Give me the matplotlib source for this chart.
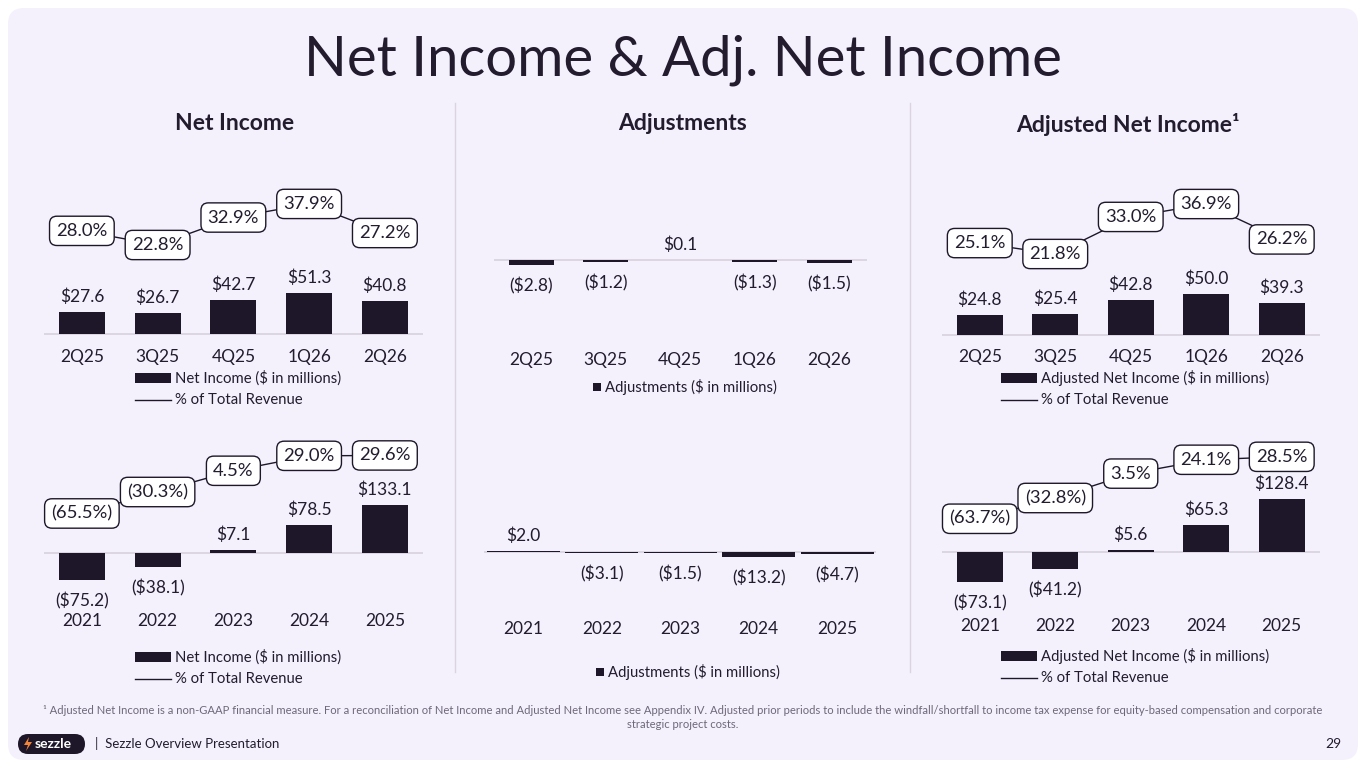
import numpy as np
import matplotlib
matplotlib.use("Agg")
import matplotlib.pyplot as plt
from matplotlib.patches import FancyBboxPatch, Rectangle, Polygon

plt.rcParams['font.family'] = ['Lato', 'DejaVu Sans']

# ---- data ----
quarters = ['2Q25', '3Q25', '4Q25', '1Q26', '2Q26']
years = ['2021', '2022', '2023', '2024', '2025']

ni_q = [27.6, 26.7, 42.7, 51.3, 40.8]
ni_q_pct = [28.0, 22.8, 32.9, 37.9, 27.2]
ni_y = [-75.2, -38.1, 7.1, 78.5, 133.1]
ni_y_pct = [-65.5, -30.3, 4.5, 29.0, 29.6]

adj_q = [-2.8, -1.2, 0.1, -1.3, -1.5]
adj_y = [2.0, -3.1, -1.5, -13.2, -4.7]

adjni_q = [24.8, 25.4, 42.8, 50.0, 39.3]
adjni_q_pct = [25.1, 21.8, 33.0, 36.9, 26.2]
adjni_y = [-73.1, -41.2, 5.6, 65.3, 128.4]
adjni_y_pct = [-63.7, -32.8, 3.5, 24.1, 28.5]

DARK = '#1d1729'
TXT = '#221c2e'
BASE = '#d9d4e0'
CARD = '#f5f1fc'
W, H = 1365, 768

fig = plt.figure(figsize=(W / 100, H / 100), dpi=100)
fig.patch.set_facecolor('white')

# background axes in pixel coords
bg = fig.add_axes([0, 0, 1, 1], zorder=0)
bg.set_xlim(0, W)
bg.set_ylim(H, 0)
bg.axis('off')
bg.add_patch(FancyBboxPatch((8, 8), 1350, 752, boxstyle='round,pad=0,rounding_size=16',
                            fc=CARD, ec='none'))
for xs in (455, 910):
    bg.plot([xs, xs], [103, 672], color=BASE, lw=1)


def money(v):
    return f'${v:.1f}' if v >= 0 else f'(${-v:.1f})'


def pct(v):
    return f'{v:.1f}%' if v >= 0 else f'({-v:.1f}%)'


def panel(cats, vals, left, spacing, base, scale, cat_y, width, pcts=None, pct_ref=None):
    top, bot = base - 160, base + 100
    ax = fig.add_axes([left / W, 1 - bot / H, 5 * spacing / W, (bot - top) / H], zorder=2)
    ax.patch.set_alpha(0)
    ax.set_xlim(-0.5, 4.5)
    ax.set_ylim((base - bot) / scale, (base - top) / scale)
    ax.axis('off')
    x = np.arange(len(cats))
    ax.axhline(0, color=BASE, lw=1.3, zorder=1)
    ax.bar(x, vals, width=width, color=DARK, zorder=2)
    for i, v in enumerate(vals):
        if v >= 0:
            ax.annotate(money(v), (i, v), xytext=(0, 5), textcoords='offset points',
                        ha='center', va='bottom', fontsize=12.5, color=TXT)
        else:
            ax.annotate(money(v), (i, v), xytext=(0, -9), textcoords='offset points',
                        ha='center', va='top', fontsize=12.5, color=TXT)
        ax.text(i, (base - cat_y) / scale, cats[i], ha='center', va='center',
                fontsize=12.5, color=TXT)
    if pcts is not None:
        ref_v, ref_px, s2 = pct_ref
        ax2 = ax.twinx()
        ax2.set_ylim(ref_v + (ref_px - bot) / s2, ref_v + (ref_px - top) / s2)
        ax2.axis('off')
        ax2.plot(x, pcts, color=DARK, lw=1, zorder=1)
        for i, p in enumerate(pcts):
            ax2.text(i, p, pct(p), ha='center', va='center', fontsize=13.3, color=TXT, zorder=3,
                     bbox=dict(boxstyle='round,pad=0.36,rounding_size=0.4', fc='white',
                               ec=DARK, lw=1))
    return ax


panel(quarters, ni_q, 44, 75.75, 334, 0.8, 357, 0.61, ni_q_pct, (22.8, 245, 2.72))
panel(years, ni_y, 44, 75.75, 553, 0.36, 621, 0.61, ni_y_pct, (-30.3, 492, 0.61))
panel(quarters, adj_q, 494, 74.5, 260, 1.8, 360, 0.6)
panel(years, adj_y, 484, 78.5, 552, 0.4, 629, 0.93)
panel(quarters, adjni_q, 942, 75.5, 335, 0.82, 357, 0.61, adjni_q_pct, (21.8, 254, 3.31))
panel(years, adjni_y, 942, 75.5, 552, 0.41, 626, 0.61, adjni_y_pct, (-32.8, 498, 0.672))

# legends
def legend2(x, y1, y2, label):
    bg.add_patch(Rectangle((x, y1 - 5), 36, 10, fc=DARK, ec='none'))
    bg.text(x + 40, y1, label, ha='left', va='center', fontsize=10.7, color=TXT)
    bg.plot([x, x + 36], [y2, y2], color=DARK, lw=1)
    bg.text(x + 40, y2, '% of Total Revenue', ha='left', va='center', fontsize=10.7, color=TXT)


legend2(135, 378, 400, 'Net Income ($ in millions)')
legend2(135, 657, 679, 'Net Income ($ in millions)')
legend2(1001, 378, 400, 'Adjusted Net Income ($ in millions)')
legend2(1001, 656, 678, 'Adjusted Net Income ($ in millions)')
for sx, sy in ((593, 387), (596, 672)):
    bg.add_patch(Rectangle((sx, sy - 4), 8, 8, fc=DARK, ec='none'))
    bg.text(sx + 12, sy, 'Adjustments ($ in millions)', ha='left', va='center',
            fontsize=10.7, color=TXT)

# titles
bg.text(683, 60, 'Net Income & Adj. Net Income', ha='center', va='center',
        fontsize=40.5, fontweight='normal', color=TXT)
bg.text(235, 124, 'Net Income', ha='center', va='center', fontsize=16.5, fontweight='bold', color=TXT)
bg.text(683, 124, 'Adjustments', ha='center', va='center', fontsize=16.5, fontweight='bold', color=TXT)
bg.text(1128, 124, 'Adjusted Net Income¹', ha='center', va='center', fontsize=16.5,
        fontweight='bold', color=TXT)

# footnote and footer
bg.text(683, 711, '¹ Adjusted Net Income is a non-GAAP financial measure. For a reconciliation of Net Income '
        'and Adjusted Net Income see Appendix IV. Adjusted prior periods to include the windfall/shortfall '
        'to income tax expense for equity-based compensation and corporate',
        ha='center', va='center', fontsize=8.1, color='#6e6879')
bg.text(683, 724, 'strategic project costs.', ha='center', va='center', fontsize=8.1, color='#6e6879')

bg.add_patch(FancyBboxPatch((18, 734), 67, 20, boxstyle='round,pad=0,rounding_size=10',
                            fc=DARK, ec='none'))
bg.add_patch(Polygon([[29, 737], [24, 745], [28, 745], [26, 751], [32, 742], [28, 742]],
                     closed=True, fc='#f2853a', ec='none'))
bg.text(35, 744, 'sezzle', ha='left', va='center', fontsize=10, fontweight='bold', color='white')
bg.text(95, 744, '|  Sezzle Overview Presentation', ha='left', va='center', fontsize=9.5, color=TXT)
bg.text(1341, 744, '29', ha='right', va='center', fontsize=10, color=TXT)

fig.savefig('out.png', dpi=100, facecolor='white')
